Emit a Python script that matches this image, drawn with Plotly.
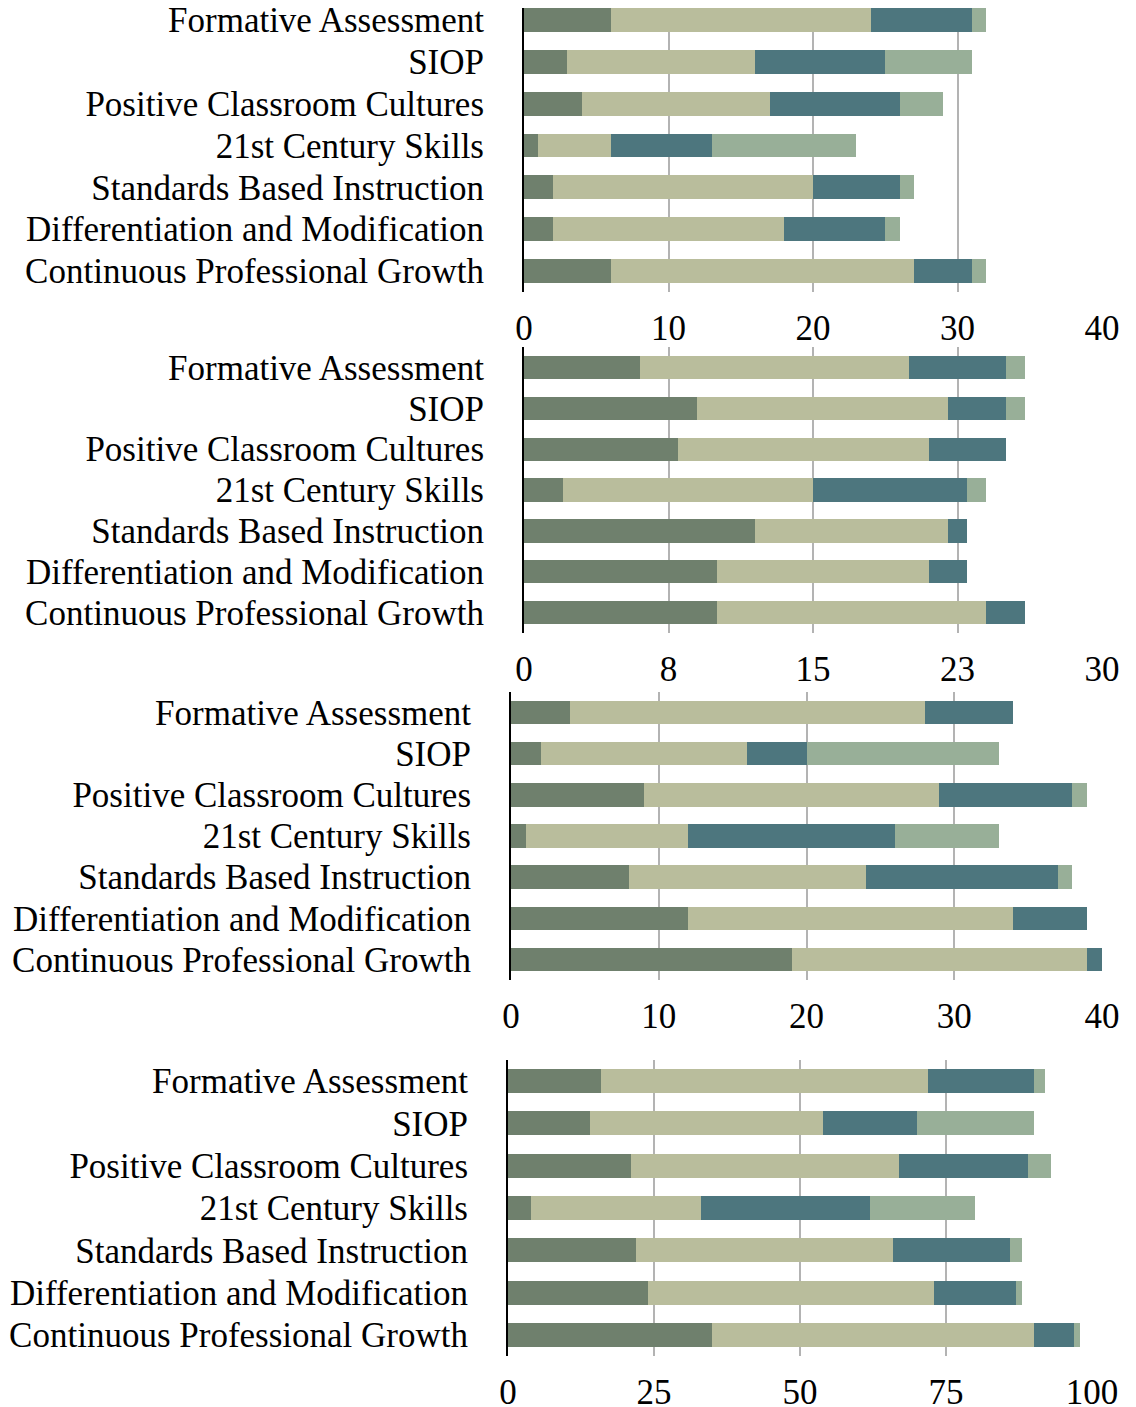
import plotly.graph_objects as go

categories = ["Formative Assessment", "SIOP", "Positive Classroom Cultures",
              "21st Century Skills", "Standards Based Instruction",
              "Differentiation and Modification", "Continuous Professional Growth"]

# Panel 1 (axis 0-40)
p1_s1 = [6, 3, 4, 1, 2, 2, 6]
p1_s2 = [18, 13, 13, 5, 18, 16, 21]
p1_s3 = [7, 9, 9, 7, 6, 7, 4]
p1_s4 = [1, 6, 3, 10, 1, 1, 1]

# Panel 2 (axis 0-30)
p2_s1 = [6, 9, 8, 2, 12, 10, 10]
p2_s2 = [14, 13, 13, 13, 10, 11, 14]
p2_s3 = [5, 3, 4, 8, 1, 2, 2]
p2_s4 = [1, 1, 0, 1, 0, 0, 0]

# Panel 3 (axis 0-40)
p3_s1 = [4, 2, 9, 1, 8, 12, 19]
p3_s2 = [24, 14, 20, 11, 16, 22, 20]
p3_s3 = [6, 4, 9, 14, 13, 5, 1]
p3_s4 = [0, 13, 1, 7, 1, 0, 0]

# Panel 4 (axis 0-100)
p4_s1 = [16, 14, 21, 4, 22, 24, 35]
p4_s2 = [56, 40, 46, 29, 44, 49, 55]
p4_s3 = [18, 16, 22, 29, 20, 14, 7]
p4_s4 = [2, 20, 4, 18, 2, 1, 1]

p1_tickvals = [0, 10, 20, 30, 40]
p1_ticktext = ["0", "10", "20", "30", "40"]
p2_tickvals = [0, 7.5, 15, 22.5, 30]
p2_ticktext = ["0", "8", "15", "23", "30"]
p3_tickvals = [0, 10, 20, 30, 40]
p3_ticktext = ["0", "10", "20", "30", "40"]
p4_tickvals = [0, 25, 50, 75, 100]
p4_ticktext = ["0", "25", "50", "75", "100"]

colors = ["#6f806d", "#b9bd9c", "#4d767e", "#98af98"]

# page body has a default 8px margin; the figure is sized/positioned to compensate
OFF = 8
W, H = 1136 - OFF, 1407 - OFF
FONT = "Liberation Serif"
FS = 35

panels = [
    dict(series=[p1_s1, p1_s2, p1_s3, p1_s4], rng=[0, 40], tv=p1_tickvals, tt=p1_ticktext,
         x0=524, x1=1102, y0=-1, y1=292),
    dict(series=[p2_s1, p2_s2, p2_s3, p2_s4], rng=[0, 30], tv=p2_tickvals, tt=p2_ticktext,
         x0=524, x1=1102, y0=347, y1=633),
    dict(series=[p3_s1, p3_s2, p3_s3, p3_s4], rng=[0, 40], tv=p3_tickvals, tt=p3_ticktext,
         x0=511, x1=1102, y0=692, y1=980),
    dict(series=[p4_s1, p4_s2, p4_s3, p4_s4], rng=[0, 100], tv=p4_tickvals, tt=p4_ticktext,
         x0=508, x1=1092, y0=1060, y1=1356),
]

fig = go.Figure()
layout = dict(
    width=W, height=H,
    margin=dict(l=0, r=0, t=0, b=0),
    paper_bgcolor="white", plot_bgcolor="white",
    barmode="stack", bargap=0.43,
    showlegend=False,
    font=dict(family=FONT, size=FS, color="black"),
)

n = len(categories)
for i, p in enumerate(panels, start=1):
    xa = "x" if i == 1 else f"x{i}"
    ya = "y" if i == 1 else f"y{i}"
    for vals, c in zip(p["series"], colors):
        fig.add_trace(go.Bar(y=categories, x=vals, orientation="h", marker=dict(color=c, line=dict(width=0)),
                             xaxis=xa, yaxis=ya, showlegend=False))
    xkey = "xaxis" if i == 1 else f"xaxis{i}"
    ykey = "yaxis" if i == 1 else f"yaxis{i}"
    x0, x1 = p["x0"] - OFF, p["x1"] - OFF
    y0_full, y1 = p["y0"] - OFF, p["y1"] - OFF
    pitch = (y1 - y0_full) / n
    y0 = max(y0_full, 0)
    top_val = -0.5 + (y0 - y0_full) / pitch
    layout[xkey] = dict(
        domain=[x0 / W, x1 / W], range=p["rng"], anchor=ya, automargin=False,
        tickmode="array", tickvals=p["tv"], ticktext=p["tt"],
        showgrid=True, gridcolor="#b3b3b3", gridwidth=2,
        zeroline=False, showline=False, ticks="outside", ticklen=5, tickcolor="rgba(0,0,0,0)",
        tickfont=dict(family=FONT, size=FS, color="black"), fixedrange=True,
    )
    layout[ykey] = dict(
        domain=[1 - y1 / H, 1 - y0 / H], anchor=xa, automargin=False,
        type="category", categoryorder="array", categoryarray=categories,
        range=[n - 0.5, top_val],
        tickmode="array", tickvals=categories, ticktext=categories,
        showgrid=False, zeroline=False, showline=True, linecolor="black", linewidth=2,
        ticks="outside", ticklen=31, tickcolor="rgba(0,0,0,0)",
        tickfont=dict(family=FONT, size=FS, color="black"), fixedrange=True,
    )

fig.update_layout(**layout)
fig.write_html("out.html")
